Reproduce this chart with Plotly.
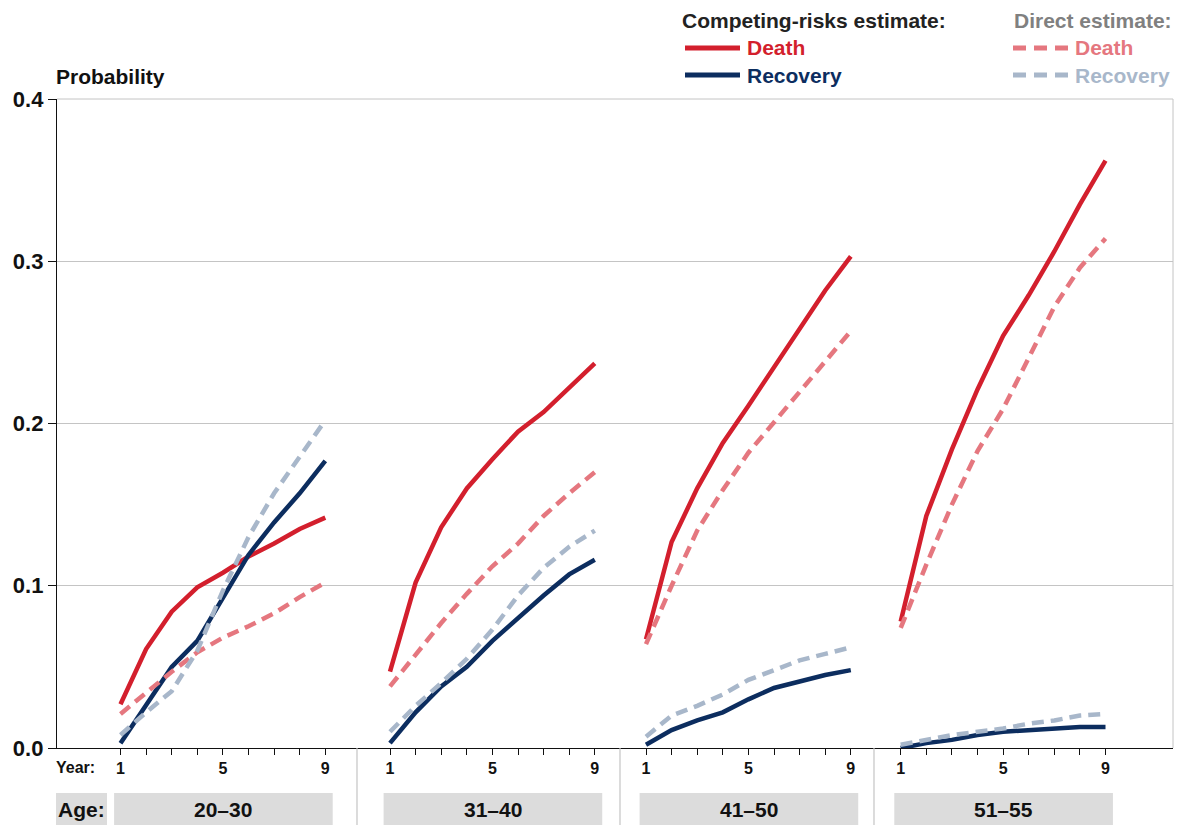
import plotly.graph_objects as go

# ---------------- data ----------------
years = [1, 2, 3, 4, 5, 6, 7, 8, 9]
year_ticktext = ["1", "", "", "", "5", "", "", "", "9"]
age_groups = ["20–30", "31–40", "41–50", "51–55"]
y_tickvals = [0.0, 0.1, 0.2, 0.3, 0.4]
y_ticktext = ["0.0", "0.1", "0.2", "0.3", "0.4"]

# competing-risks estimate, death (one list per age group)
death_competing = [
    [0.027, 0.061, 0.084, 0.099, 0.108, 0.118, 0.126, 0.135, 0.142],
    [0.047, 0.102, 0.136, 0.160, 0.178, 0.195, 0.207, 0.222, 0.237],
    [0.067, 0.127, 0.160, 0.188, 0.211, 0.235, 0.259, 0.282, 0.303],
    [0.078, 0.143, 0.184, 0.221, 0.254, 0.279, 0.306, 0.335, 0.362],
]
# competing-risks estimate, recovery
recovery_competing = [
    [0.003, 0.026, 0.050, 0.066, 0.092, 0.119, 0.139, 0.157, 0.177],
    [0.003, 0.022, 0.038, 0.050, 0.066, 0.080, 0.094, 0.107, 0.116],
    [0.002, 0.011, 0.017, 0.022, 0.030, 0.037, 0.041, 0.045, 0.048],
    [0.000, 0.003, 0.005, 0.008, 0.010, 0.011, 0.012, 0.013, 0.013],
]
# direct estimate, death
death_direct = [
    [0.021, 0.034, 0.047, 0.059, 0.068, 0.075, 0.083, 0.093, 0.102],
    [0.038, 0.058, 0.077, 0.095, 0.112, 0.126, 0.143, 0.157, 0.170],
    [0.064, 0.100, 0.134, 0.159, 0.182, 0.201, 0.220, 0.239, 0.257],
    [0.074, 0.113, 0.150, 0.183, 0.209, 0.240, 0.272, 0.296, 0.314],
]
# direct estimate, recovery
recovery_direct = [
    [0.008, 0.022, 0.035, 0.060, 0.097, 0.130, 0.157, 0.180, 0.202],
    [0.010, 0.026, 0.040, 0.055, 0.073, 0.094, 0.111, 0.124, 0.134],
    [0.007, 0.020, 0.026, 0.033, 0.042, 0.048, 0.054, 0.058, 0.062],
    [0.002, 0.005, 0.008, 0.010, 0.012, 0.015, 0.017, 0.020, 0.021],
]

# ---------------- styling / layout constants ----------------
W, H = 1184, 825
PL, PR, PT, PB = 57, 1173, 99, 748
FONT = "Liberation Sans"
RED = "#d31f2d"
NAVY = "#0c2d5f"
RED_L = "#e5777f"
BLUE_L = "#a8b7ca"
GRID = "#c4c4c4"
BOX = "#dcdcdc"

panel_edges_px = [57, 357, 620, 874, 1173]
year1_px = [120.5, 390.0, 646.0, 900.7]
year_step_px = 25.6


def px_x(px):
    return (px - PL) / (PR - PL)


def px_y(py):
    return (PB - py) / (PB - PT)


fig = go.Figure()

series = [
    (death_competing, RED, "solid"),
    (recovery_competing, NAVY, "solid"),
    (death_direct, RED_L, "12px,7px"),
    (recovery_direct, BLUE_L, "12px,7px"),
]

for p in range(4):
    ax = "x" if p == 0 else f"x{p + 1}"
    for vals, col, dash in series:
        fig.add_trace(go.Scatter(
            x=years, y=vals[p], mode="lines", xaxis=ax, yaxis="y",
            line=dict(color=col, width=4.5, dash=dash),
            showlegend=False, hoverinfo="skip",
        ))

layout = dict(
    width=W, height=H,
    margin=dict(l=PL, r=W - PR, t=PT, b=H - PB, pad=0),
    paper_bgcolor="white", plot_bgcolor="white",
    showlegend=False,
    font=dict(family=FONT, color="#1a1a1a"),
    yaxis=dict(
        range=[0, 0.4], tickvals=y_tickvals, ticktext=y_ticktext,
        showgrid=True, gridcolor=GRID, gridwidth=1, zeroline=False,
        showline=True, linecolor="#111", linewidth=1.3,
        ticks="outside", ticklen=8, tickwidth=1.3, tickcolor="#111",
        tickfont=dict(family=FONT, size=22, weight="bold", color="#111"),
        fixedrange=True,
    ),
)

for p in range(4):
    L, R = panel_edges_px[p], panel_edges_px[p + 1]
    x1 = year1_px[p]
    x9 = x1 + 8 * year_step_px
    rng = [1 - (x1 - L) / year_step_px, 9 + (R - x9) / year_step_px]
    key = "xaxis" if p == 0 else f"xaxis{p + 1}"
    layout[key] = dict(
        domain=[px_x(L), px_x(R)], range=rng, anchor="y",
        tickvals=years, ticktext=year_ticktext,
        showgrid=False, zeroline=False,
        showline=True, linecolor="#111", linewidth=1.3,
        ticks="outside", ticklen=6, tickwidth=1.2, tickcolor="#111",
        tickfont=dict(family=FONT, size=16, weight="bold", color="#111"),
        fixedrange=True,
    )

fig.update_layout(**layout)

shapes = []
annotations = []

# top gridline and right border
shapes.append(dict(type="line", xref="paper", yref="paper", x0=0, x1=1, y0=1, y1=1,
                   line=dict(color=GRID, width=1)))
shapes.append(dict(type="line", xref="paper", yref="paper", x0=1, x1=1, y0=0, y1=1,
                   line=dict(color=GRID, width=1)))

# separators below axis
for e in panel_edges_px[1:4]:
    shapes.append(dict(type="line", xref="paper", yref="paper",
                       x0=px_x(e), x1=px_x(e), y0=0, y1=px_y(H + 5),
                       line=dict(color=GRID, width=1.2)))

# age boxes
box_top, box_bot = px_y(793), px_y(H + 5)
shapes.append(dict(type="rect", xref="paper", yref="paper",
                   x0=px_x(56), x1=px_x(107), y0=box_bot, y1=box_top,
                   fillcolor=BOX, line=dict(width=0), layer="below"))
annotations.append(dict(text="<b>Age:</b>", xref="paper", yref="paper",
                        x=px_x(81.5), y=px_y(809), xanchor="center", yanchor="middle",
                        showarrow=False, font=dict(family=FONT, size=21, color="#111")))
for p in range(4):
    ax = "x" if p == 0 else f"x{p + 1}"
    shapes.append(dict(type="rect", xref=ax, yref="paper",
                       x0=0.75, x1=9.29, y0=box_bot, y1=box_top,
                       fillcolor=BOX, line=dict(width=0), layer="below"))
    annotations.append(dict(text=f"<b>{age_groups[p]}</b>", xref=ax, yref="paper",
                            x=5.02, y=px_y(809), xanchor="center", yanchor="middle",
                            showarrow=False, font=dict(family=FONT, size=21, color="#111")))

# Year: label
annotations.append(dict(text="<b>Year:</b>", xref="paper", yref="paper",
                        x=px_x(54), y=px_y(767), xanchor="left", yanchor="middle",
                        showarrow=False, font=dict(family=FONT, size=16, color="#111")))
# Probability label
annotations.append(dict(text="<b>Probability</b>", xref="paper", yref="paper",
                        x=px_x(54), y=px_y(76), xanchor="left", yanchor="middle",
                        showarrow=False, font=dict(family=FONT, size=21, color="#111")))

# legend
annotations.append(dict(text="<b>Competing-risks estimate:</b>", xref="paper", yref="paper",
                        x=px_x(680), y=px_y(20), xanchor="left", yanchor="middle",
                        showarrow=False, font=dict(family=FONT, size=21, color="#222")))
annotations.append(dict(text="<b>Direct estimate:</b>", xref="paper", yref="paper",
                        x=px_x(1174), y=px_y(20), xanchor="right", yanchor="middle",
                        showarrow=False, font=dict(family=FONT, size=21, color="#808080")))
legend_items = [
    (685, 48, RED, "solid", "Death"),
    (685, 75, NAVY, "solid", "Recovery"),
    (1013, 48, RED_L, "13px,8px", "Death"),
    (1013, 75, BLUE_L, "13px,8px", "Recovery"),
]
for x0, yy, col, dash, label in legend_items:
    shapes.append(dict(type="line", xref="paper", yref="paper",
                       x0=px_x(x0), x1=px_x(x0 + 55), y0=px_y(yy), y1=px_y(yy),
                       line=dict(color=col, width=5, dash=dash)))
    annotations.append(dict(text=f"<b>{label}</b>", xref="paper", yref="paper",
                            x=px_x(x0 + 60), y=px_y(yy), xanchor="left", yanchor="middle",
                            showarrow=False, font=dict(family=FONT, size=21, color=col)))

fig.update_layout(shapes=shapes, annotations=annotations)
fig.write_html("out.html")
